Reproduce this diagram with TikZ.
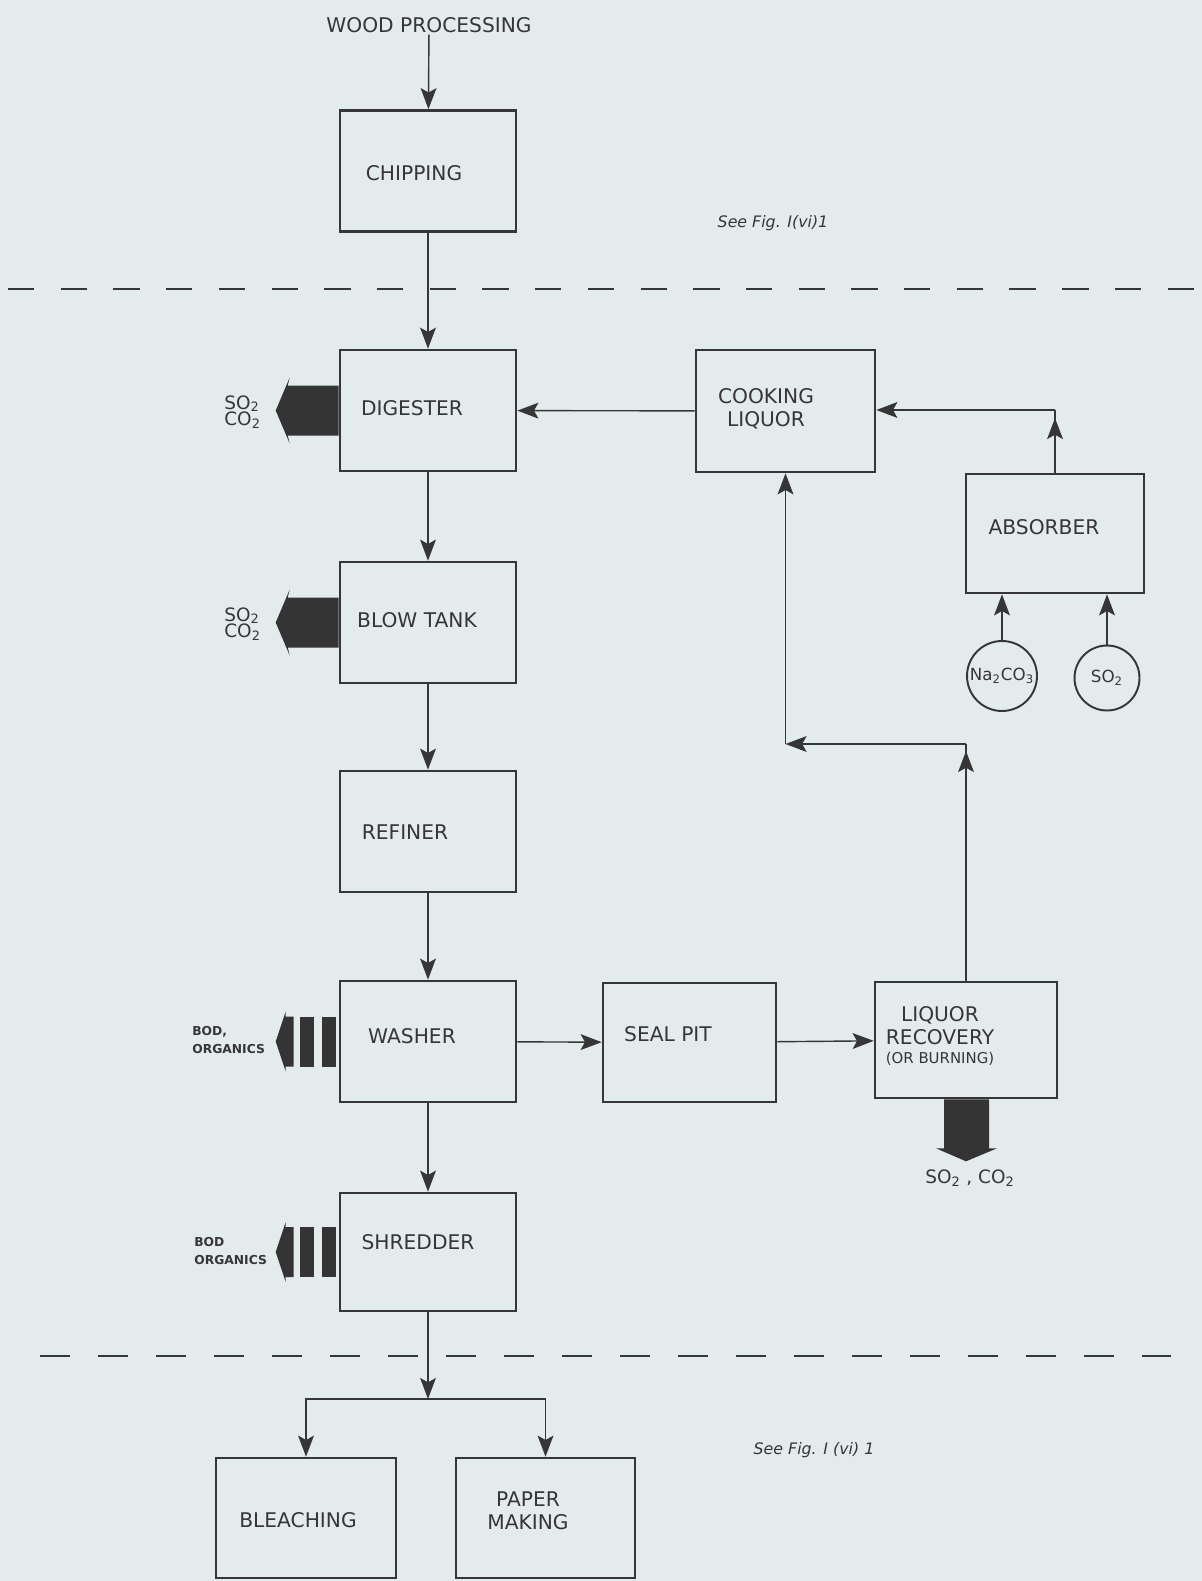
\documentclass[tikz,border=0pt]{standalone}
\usepackage{fontspec}
\setmainfont{DejaVu Sans}
\usetikzlibrary{arrows.meta}

\definecolor{paper}{HTML}{E4EBED}
\definecolor{ink}{HTML}{363636}
\definecolor{soot}{HTML}{343434}

\tikzset{
    unitbox/.style={draw=ink, line width=1.5pt, inner sep=0pt,
        minimum width=3.52cm, minimum height=2.42cm},
    tag/.style={text=ink, font=\fontsize{11.5}{13}\selectfont, align=center, inner sep=1pt},
    gastag/.style={text=ink, font=\fontsize{10.5}{9.5}\selectfont, align=left, inner sep=0pt},
    bodtag/.style={text=ink, font=\fontsize{7}{10}\selectfont\bfseries, align=left, inner sep=0pt},
    reftag/.style={text=ink, font=\fontsize{9}{11}\selectfont\itshape, inner sep=1pt},
    pipe/.style={draw=ink, line width=0.8pt},
    flow/.style={pipe, -{Stealth[length=12pt,width=9pt,inset=2.5pt]}},
    cut/.style={draw=ink, line width=1.5pt, dash pattern=on 15pt off 15pt},
    feed/.style={draw=ink, line width=1.1pt, circle, inner sep=0pt, text=ink,
        font=\fontsize{9.5}{11}\selectfont},
    gas/.style={fill=soot}
}

\begin{document}
\begin{tikzpicture}[
    x=0.02cm,
    y=-0.02cm
]
\useasboundingbox (0,0) rectangle (1202,1581);
\fill[paper] (0,0) rectangle (1202,1581);

% Section cuts
\draw[cut] (8,289) -- (1202,289);
\draw[cut, dash pattern=on 17pt off 16pt] (40,1356) -- (1175,1356);

% Process boxes
\node[unitbox] (chipping) at (428,171) {};
\node[unitbox] (digester) at (428,410.5) {};
\node[unitbox] (blowtank) at (428,622.5) {};
\node[unitbox] (refiner) at (428,831.5) {};
\node[unitbox] (washer) at (428,1041.5) {};
\node[unitbox, minimum height=2.36cm] (shredder) at (428,1252) {};
\node[unitbox, minimum width=3.6cm, minimum height=2.4cm] (bleaching) at (306,1518) {};
\node[unitbox, minimum width=3.58cm, minimum height=2.4cm] (paper) at (545.5,1518) {};
\node[unitbox, minimum width=3.58cm, minimum height=2.44cm] (cooking) at (785.5,411) {};
\node[unitbox, minimum width=3.56cm, minimum height=2.38cm] (absorber) at (1055,533.5) {};
\node[unitbox, minimum width=3.46cm, minimum height=2.38cm] (sealpit) at (689.5,1042.5) {};
\node[unitbox, minimum width=3.64cm, minimum height=2.32cm] (recovery) at (966,1040) {};

% Feed circles
\node[feed, minimum size=1.4cm] (soda) at (1002,676) {Na\textsubscript{2}CO\textsubscript{3}};
\node[feed, minimum size=1.3cm] (sulphur) at (1107,678) {SO\textsubscript{2}};

% Labels
\node[tag] (wood) at (429,25) {WOOD PROCESSING};
\node[tag] (chipping-lbl) at (414,173) {CHIPPING};
\node[tag] (digester-lbl) at (412,408) {DIGESTER};
\node[tag] (blowtank-lbl) at (417,620) {BLOW TANK};
\node[tag] (refiner-lbl) at (405,832) {REFINER};
\node[tag] (washer-lbl) at (412,1036) {WASHER};
\node[tag] (shredder-lbl) at (418,1242) {SHREDDER};
\node[tag] (bleaching-lbl) at (298,1520) {BLEACHING};
\node[tag] (paper-lbl) at (528,1511) {PAPER\\MAKING};
\node[tag] (cooking-lbl) at (766,409) {COOKING\\LIQUOR};
\node[tag] (absorber-lbl) at (1044,527) {ABSORBER};
\node[tag] (sealpit-lbl) at (668,1034) {SEAL PIT};
\node[tag] (recovery-lbl) at (940,1036) {LIQUOR\\RECOVERY\\[-2pt]{\fontsize{8.5}{10}\selectfont(OR BURNING)}};
\node[reftag] (ref-up) at (773,223) {See Fig. I(vi)1};
\node[reftag] (ref-down) at (814,1450) {See Fig. I (vi) 1};

% Emissions
\node[gastag, anchor=west] (dig-gas) at (224,412) {SO\textsubscript{2}\\CO\textsubscript{2}};
\node[gastag, anchor=west] (blow-gas) at (224,624) {SO\textsubscript{2}\\CO\textsubscript{2}};
\node[bodtag, anchor=west] (wash-bod) at (192,1040) {BOD,\\ORGANICS};
\node[bodtag, anchor=west] (shred-bod) at (194,1251) {BOD\\ORGANICS};
\node[gastag] (rec-gas) at (970,1178) {SO\textsubscript{2} , CO\textsubscript{2}};

\foreach \n in {digester, blowtank} {
    \fill[gas] (\n.west) ++(0,-25) -- ++(-51,0) -- ++(2,-8) -- ++(-14,33)
        -- ++(14,33) -- ++(-2,-8) -- ++(51,0) -- cycle;
}
\foreach \n in {washer, shredder} {
    \fill[gas] (\n.west) ++(-45,-25) -- ++(-8,0) -- ++(0,-5) -- ++(-10,30)
        -- ++(10,30) -- ++(0,-5) -- ++(8,0) -- cycle;
    \fill[gas] (\n.west) ++(-39,-25) rectangle ++(14,50);
    \fill[gas] (\n.west) ++(-17,-25) rectangle ++(14,50);
}
\fill[gas] (recovery.south) ++(-22,0) -- ++(0,49) -- ++(-8,0) -- ++(30,13)
    -- ++(31,-13) -- ++(-8,0) -- ++(0,-49) -- cycle;

% Main line
\draw[flow] (wood) -- (chipping);
\draw[flow] (chipping) -- (digester);
\draw[flow] (digester) -- (blowtank);
\draw[flow] (blowtank) -- (refiner);
\draw[flow] (refiner) -- (washer);
\draw[flow] (washer) -- (shredder);
\coordinate (branch) at (428,1399);
\draw[flow] (shredder) -- (branch);
\draw[flow] (branch) -| (bleaching.north);
\draw[flow] (branch) -| (paper.north);

% Liquor side
\draw[flow] (cooking) -- (digester);
\draw[flow] (washer) -- (sealpit);
\draw[flow] (sealpit) -- (recovery);
\coordinate (up-r) at (966,744);
\coordinate (up-l) at (785.5,744);
\draw[pipe] (recovery) -- (up-r);
\draw[flow, shorten >=0.14cm] (recovery) -- (up-r);
\draw[flow] (up-r) -- (up-l);
\draw[flow] (up-l) -- (cooking);
\coordinate (abs-top) at (1055,410);
\draw[pipe] (absorber) -- (abs-top);
\draw[flow, shorten >=0.16cm] (absorber) -- (abs-top);
\draw[flow] (abs-top) -- (abs-top -| cooking.east);
\draw[flow] (soda) -- (soda |- absorber.south);
\draw[flow] (sulphur) -- (sulphur |- absorber.south);

\end{tikzpicture}
\end{document}
